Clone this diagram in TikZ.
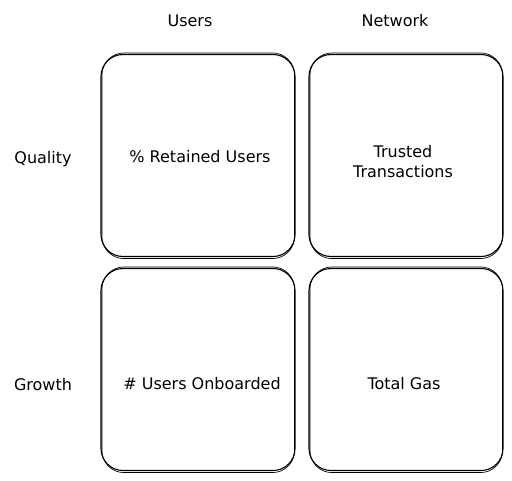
\documentclass[tikz,border=0pt]{standalone}
\usepackage{fontspec}
\setmainfont{DejaVu Sans}
\begin{document}
\begin{tikzpicture}[x=1pt,y=-1pt,
  cell/.style={draw=black, line width=1.1pt, rounded corners=22pt, minimum width=194pt, minimum height=202pt, inner sep=0pt},
  sketch/.style={draw=black, line width=0.7pt, rounded corners=22pt},
  lbl/.style={font=\fontsize{16}{20}\selectfont, text=black, align=center, inner sep=0pt}]
\useasboundingbox (0,0) rectangle (512,480);
% cells
\node[cell] (ql) at (198,155.5) {};
\node[cell] (qn) at (406,155.5) {};
\node[cell] (gl) at (198,369.5) {};
\node[cell] (gn) at (406,369.5) {};
% second sketchy strokes
\foreach \c in {ql,qn,gl,gn}{
  \draw[sketch] ([xshift=1.5pt,yshift=-1.5pt]\c.south west) rectangle ([xshift=-1pt,yshift=1pt]\c.north east);
}
% headers
\node[lbl] (users) at (190,21) {Users};
\node[lbl] (network) at (395,21) {Network};
\node[lbl] (quality) at (43,159) {Quality};
\node[lbl] (growth) at (43,385) {Growth};
% cell texts
\node[lbl] (t1) at (200,157) {\% Retained Users};
\node[lbl] (t2) at (403,162) {Trusted\\Transactions};
\node[lbl] (t3) at (202,384) {\# Users Onboarded};
\node[lbl] (t4) at (404,384) {Total Gas};
\end{tikzpicture}
\end{document}
